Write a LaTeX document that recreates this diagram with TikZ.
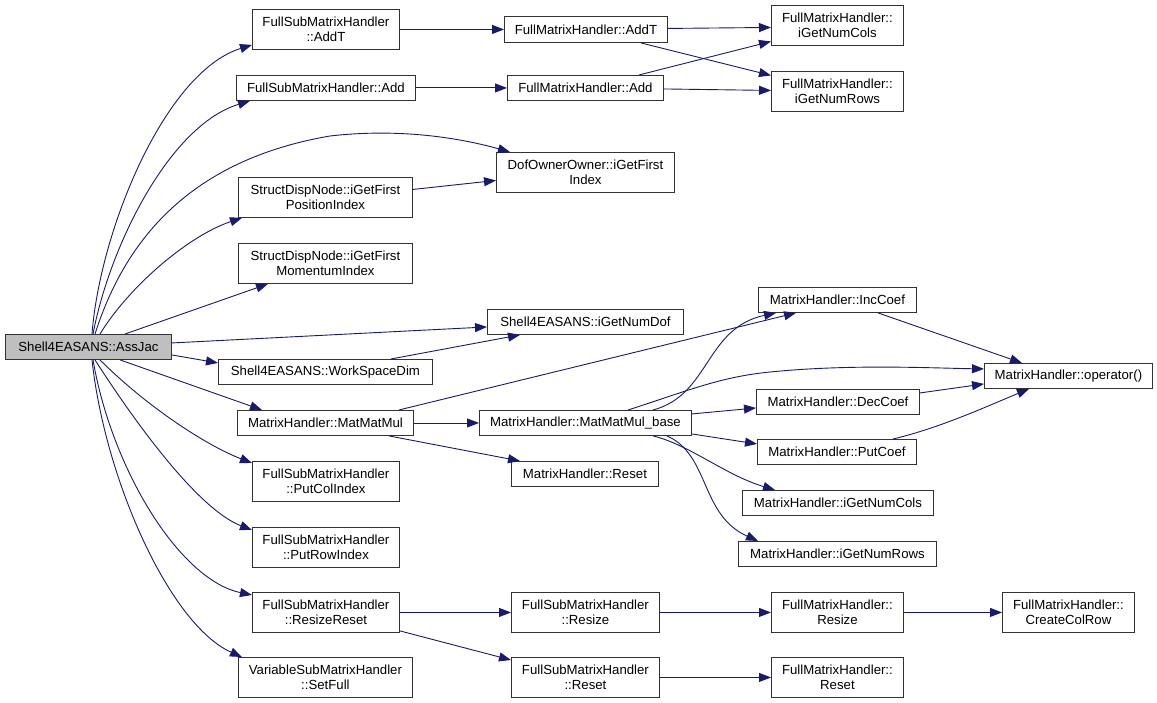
\documentclass[tikz,border=0pt]{standalone}
\usepackage{fontspec}
\setmainfont{Liberation Sans}
\usetikzlibrary{arrows.meta,calc}
\definecolor{edgec}{RGB}{25,25,112}
\definecolor{mainfill}{RGB}{191,191,191}
\begin{document}
\begin{tikzpicture}[x=1pt,y=-1pt,
  box/.style={draw=black!80,line width=0.9pt,fill=white,inner sep=0pt,anchor=north west,align=center,
    font=\fontsize{13.2}{14.6}\selectfont},
  edge/.style={draw=edgec,line width=0.9pt,-{Triangle[length=12pt,width=9pt]}}]
\useasboundingbox (0,0) rectangle (1157,703);
% nodes
\node[box,fill=mainfill,minimum width=166pt,minimum height=25pt] (aj) at (5,334) {Shell4EASANS::AssJac};
\node[box,minimum width=147pt,minimum height=40pt] (fsaddt) at (252,9) {FullSubMatrixHandler\\::AddT};
\node[box,minimum width=179pt,minimum height=25pt] (fsadd) at (236,75) {FullSubMatrixHandler::Add};
\node[box,minimum width=163pt,minimum height=26pt] (fmaddt) at (504,16) {FullMatrixHandler::AddT};
\node[box,minimum width=156pt,minimum height=25pt] (fmadd) at (507,75) {FullMatrixHandler::Add};
\node[box,minimum width=132pt,minimum height=40pt] (fmcols) at (771,5) {FullMatrixHandler::\\iGetNumCols};
\node[box,minimum width=132pt,minimum height=40pt] (fmrows) at (771,71) {FullMatrixHandler::\\iGetNumRows};
\node[box,minimum width=178pt,minimum height=40pt] (dof) at (496,152) {DofOwnerOwner::iGetFirst\\Index};
\node[box,minimum width=174pt,minimum height=40pt] (sdpos) at (238,177) {StructDispNode::iGetFirst\\PositionIndex};
\node[box,minimum width=174pt,minimum height=40pt] (sdmom) at (238,243) {StructDispNode::iGetFirst\\MomentumIndex};
\node[box,minimum width=196pt,minimum height=25pt] (numdof) at (487,309) {Shell4EASANS::iGetNumDof};
\node[box,minimum width=214pt,minimum height=25pt] (wsd) at (218,359) {Shell4EASANS::WorkSpaceDim};
\node[box,minimum width=176pt,minimum height=25pt] (mmm) at (237,410) {MatrixHandler::MatMatMul};
\node[box,minimum width=212pt,minimum height=25pt] (mmmb) at (479,410) {MatrixHandler::MatMatMul\_base};
\node[box,minimum width=147pt,minimum height=25pt] (mhreset) at (511,461) {MatrixHandler::Reset};
\node[box,minimum width=158pt,minimum height=25pt] (inc) at (758,287) {MatrixHandler::IncCoef};
\node[box,minimum width=168pt,minimum height=25pt] (op) at (984,363) {MatrixHandler::operator()};
\node[box,minimum width=163pt,minimum height=25pt] (dec) at (756,389) {MatrixHandler::DecCoef};
\node[box,minimum width=159pt,minimum height=25pt] (put) at (757,439) {MatrixHandler::PutCoef};
\node[box,minimum width=191pt,minimum height=25pt] (mhcols) at (742,490) {MatrixHandler::iGetNumCols};
\node[box,minimum width=198pt,minimum height=25pt] (mhrows) at (738,541) {MatrixHandler::iGetNumRows};
\node[box,minimum width=147pt,minimum height=40pt] (pcol) at (252,461) {FullSubMatrixHandler\\::PutColIndex};
\node[box,minimum width=147pt,minimum height=40pt] (prow) at (252,527) {FullSubMatrixHandler\\::PutRowIndex};
\node[box,minimum width=147pt,minimum height=40pt] (rr) at (252,592) {FullSubMatrixHandler\\::ResizeReset};
\node[box,minimum width=174pt,minimum height=40pt] (setfull) at (238,657) {VariableSubMatrixHandler\\::SetFull};
\node[box,minimum width=148pt,minimum height=40pt] (fsresize) at (511,592) {FullSubMatrixHandler\\::Resize};
\node[box,minimum width=148pt,minimum height=40pt] (fsreset) at (511,657) {FullSubMatrixHandler\\::Reset};
\node[box,minimum width=132pt,minimum height=40pt] (fmresize) at (771,592) {FullMatrixHandler::\\Resize};
\node[box,minimum width=132pt,minimum height=40pt] (ccr) at (1002,592) {FullMatrixHandler::\\CreateColRow};
\node[box,minimum width=132pt,minimum height=40pt] (fmreset) at (771,657) {FullMatrixHandler::\\Reset};
% edges from AssJac
\draw[edge] ($(aj.north west)+(87,0)$) .. controls (100,230) and (165,72) .. ($(fsaddt.south west)+(0,-5)$);
\draw[edge] ($(aj.north west)+(88,0)$) .. controls (110,245) and (170,125) .. ($(fsadd.south west)+(14,0)$);
\draw[edge] ($(aj.north west)+(90,0)$) .. controls (125,240) and (190,160) .. (330,136) .. controls (400,128) and (460,138) .. ($(dof.north west)+(14,0)$);
\draw[edge] ($(aj.north west)+(95,0)$) .. controls (130,285) and (190,235) .. ($(sdpos.south west)+(4,0)$);
\draw[edge] ($(aj.north west)+(120,0)$) -- ($(sdmom.south west)+(30,0)$);
\draw[edge] ($(aj.east)+(0,-4)$) -- ($(numdof.west)+(0,5)$);
\draw[edge] ($(aj.east)+(0,8)$) -- ($(wsd.west)+(0,-9)$);
\draw[edge] ($(aj.south west)+(115,0)$) -- ($(mmm.north west)+(25,0)$);
\draw[edge] ($(aj.south west)+(95,0)$) .. controls (145,405) and (205,445) .. ($(pcol.north west)+(0,2)$);
\draw[edge] ($(aj.south west)+(90,0)$) .. controls (140,430) and (200,510) .. ($(prow.north west)+(0,3)$);
\draw[edge] ($(aj.south west)+(88,0)$) .. controls (112,470) and (180,580) .. ($(rr.north west)+(0,3)$);
\draw[edge] ($(aj.south west)+(87,0)$) .. controls (105,480) and (170,625) .. ($(setfull.north west)+(4,0)$);
% other edges
\draw[edge] ($(sdpos.east)+(0,-8)$) -- ($(dof.west)+(0,8)$);
\draw[edge] (fsaddt.east) -- (fmaddt.west);
\draw[edge] (fsadd.east) -- (fmadd.west);
\draw[edge] ($(fmaddt.east)+(0,-1)$) -- ($(fmcols.west)+(0,2)$);
\draw[edge] ($(fmaddt.south east)+(-27,0)$) -- ($(fmrows.west)+(0,-16)$);
\draw[edge] ($(fmadd.north east)+(-25,0)$) -- ($(fmcols.west)+(0,16)$);
\draw[edge] ($(fmadd.east)+(0,1)$) -- ($(fmrows.west)+(0,-1)$);
\draw[edge] ($(wsd.north east)+(-42,0)$) -- ($(numdof.south west)+(33,0)$);
\draw[edge] ($(mmm.north east)+(-15,0)$) -- ($(inc.south west)+(38,0)$);
\draw[edge] (mmm.east) -- (mmmb.west);
\draw[edge] ($(mmm.south east)+(-25,0)$) -- ($(mhreset.north west)+(9,0)$);
\draw[edge] ($(mmmb.north west)+(174,0)$) .. controls (710,395) and (705,328) .. ($(inc.south west)+(18,0)$);
\draw[edge] ($(mmmb.north west)+(149,0)$) .. controls (690,390) and (720,377) .. (770,372) .. controls (850,364) and (930,368) .. ($(op.west)+(0,-7)$);
\draw[edge] ($(mmmb.east)+(0,-9)$) -- ($(dec.west)+(0,6)$);
\draw[edge] ($(mmmb.east)+(0,11)$) -- ($(put.west)+(0,-8)$);
\draw[edge] ($(mmmb.south west)+(174,0)$) .. controls (690,445) and (725,475) .. ($(mhcols.north west)+(33,0)$);
\draw[edge] ($(mmmb.south west)+(188,0)$) .. controls (710,455) and (700,515) .. ($(mhrows.north west)+(20,0)$);
\draw[edge] ($(inc.south west)+(120,0)$) -- ($(op.north west)+(38,0)$);
\draw[edge] ($(dec.east)+(0,-9)$) -- ($(op.west)+(0,8)$);
\draw[edge] ($(put.north west)+(136,0)$) .. controls (940,428) and (990,405) .. ($(op.south west)+(45,0)$);
\draw[edge] (rr.east) -- (fsresize.west);
\draw[edge] ($(rr.south east)+(0,-2)$) -- ($(fsreset.north west)+(0,3)$);
\draw[edge] (fsresize.east) -- (fmresize.west);
\draw[edge] (fmresize.east) -- (ccr.west);
\draw[edge] (fsreset.east) -- (fmreset.west);
\end{tikzpicture}
\end{document}
